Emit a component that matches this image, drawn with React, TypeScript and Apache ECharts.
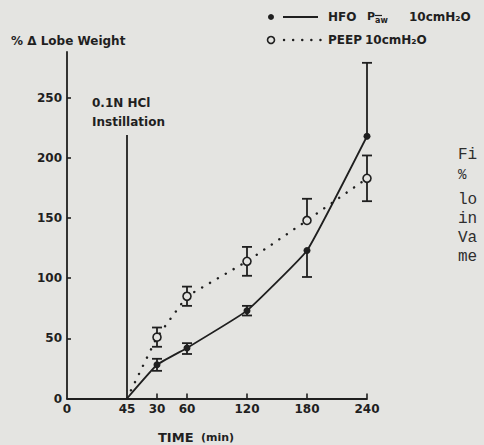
import React, { useEffect, useRef } from "react";
import * as echarts from "echarts";

// ---- data ----
const instillationLabel = "45";
const postTimes = [30, 60, 120, 180, 240];
const hfoMean = [28, 42, 73, 123, 218];
const hfoLow = [23, 37, 69, 101, 218];
const hfoHigh = [33, 46, 77, 123, 279];
const peepMean = [51, 85, 114, 148, 183];
const peepLow = [43, 77, 102, 148, 164];
const peepHigh = [59, 93, 126, 166, 202];
const startValue = 0;
const yTickValues = [0, 50, 100, 150, 200, 250];
const instillationLineTop = 219;
const captionLines = ["Fi", "%", "lo", "in", "Va", "me"];

// axis-unit position of "time 0 after instillation" (end of the 45-min instillation segment)
const POST_ORIGIN = 60;
const X_MAX = POST_ORIGIN + 240;
const Y_MAX = 288;

const INK = "#1f1f1f";
const BG = "#e4e4e1";
const FONT = "'DejaVu Sans', sans-serif";

export default function App() {
  const ref = useRef<HTMLDivElement>(null);

  useEffect(() => {
    if (!ref.current) return;
    const chart = echarts.init(ref.current, undefined, { renderer: "svg" });

    const xPos = postTimes.map((t) => POST_ORIGIN + t);
    const xTickPos = [0, POST_ORIGIN, ...xPos];
    const xTickText = ["0", instillationLabel, ...postTimes.map(String)];
    const labelFor = (v: number) => {
      const i = xTickPos.findIndex((p) => Math.abs(p - v) < 0.01);
      return i >= 0 ? xTickText[i] : "";
    };

    const hfoData = [[POST_ORIGIN, startValue], ...xPos.map((x, i) => [x, hfoMean[i]])];
    const peepData = [[POST_ORIGIN, startValue], ...xPos.map((x, i) => [x, peepMean[i]])];
    const hfoErr = xPos.map((x, i) => [x, hfoLow[i], hfoHigh[i], hfoMean[i]]);
    const peepErr = xPos.map((x, i) => [x, peepLow[i], peepHigh[i], peepMean[i]]);

    const errRender = (params: any, api: any) => {
      const x = api.value(0);
      const lo = api.value(1);
      const hi = api.value(2);
      const m = api.value(3);
      const pLo = api.coord([x, lo]);
      const pHi = api.coord([x, hi]);
      const style = { stroke: INK, lineWidth: 1.8 };
      const children: any[] = [
        { type: "line", shape: { x1: pLo[0], y1: pLo[1], x2: pHi[0], y2: pHi[1] }, style },
      ];
      const hw = 5;
      if (lo < m)
        children.push({ type: "line", shape: { x1: pLo[0] - hw, y1: pLo[1], x2: pLo[0] + hw, y2: pLo[1] }, style });
      if (hi > m)
        children.push({ type: "line", shape: { x1: pHi[0] - hw, y1: pHi[1], x2: pHi[0] + hw, y2: pHi[1] }, style });
      return { type: "group", children };
    };

    const txt = (x: number, y: number, text: string, size = 12, extra: any = {}) => ({
      type: "text",
      x,
      y,
      style: {
        text,
        fill: INK,
        font: `bold ${size}px ${FONT}`,
        verticalAlign: "middle",
        ...extra,
      },
    });

    const option: any = {
      animation: false,
      backgroundColor: BG,
      grid: { left: 67, top: 52, width: 300, bottom: 46.5, containLabel: false },
      xAxis: {
        type: "value",
        min: 0,
        max: X_MAX,
        axisLine: { show: true, lineStyle: { color: INK, width: 1.8 } },
        axisTick: {
          show: true,
          inside: true,
          length: 5,
          lineStyle: { color: INK, width: 1.6 },
          customValues: xPos,
        },
        axisLabel: {
          customValues: xTickPos,
          formatter: (v: number) => labelFor(v),
          color: INK,
          fontFamily: FONT,
          fontWeight: "bold",
          fontSize: 12,
          margin: 4,
        },
        splitLine: { show: false },
      },
      yAxis: {
        type: "value",
        min: 0,
        max: Y_MAX,
        axisLine: { show: true, lineStyle: { color: INK, width: 1.8 } },
        axisTick: {
          show: true,
          inside: true,
          length: 4,
          lineStyle: { color: INK, width: 1.6 },
          customValues: yTickValues.slice(1),
        },
        axisLabel: {
          customValues: yTickValues,
          color: INK,
          fontFamily: FONT,
          fontWeight: "bold",
          fontSize: 12,
          margin: 5,
        },
        splitLine: { show: false },
      },
      series: [
        {
          type: "line",
          name: "instillation",
          data: [],
          markLine: {
            silent: true,
            symbol: "none",
            label: { show: false },
            lineStyle: { color: INK, width: 1.8, type: "solid" },
            data: [[{ coord: [POST_ORIGIN, 0] }, { coord: [POST_ORIGIN, instillationLineTop] }]],
          },
        },
        {
          type: "custom",
          name: "hfoErr",
          renderItem: errRender,
          data: hfoErr,
          z: 1,
        },
        {
          type: "custom",
          name: "peepErr",
          renderItem: errRender,
          data: peepErr,
          z: 1,
        },
        {
          type: "line",
          name: "HFO",
          data: hfoData,
          smooth: 0.1,
          z: 3,
          lineStyle: { color: INK, width: 1.8 },
          symbol: (v: any, p: any) => (p.dataIndex === 0 ? "none" : "circle"),
          symbolSize: 7,
          itemStyle: { color: INK, borderWidth: 0 },
        },
        {
          type: "line",
          name: "PEEP",
          data: peepData,
          z: 4,
          lineStyle: { color: INK, width: 2.4, type: [0.1, 9], cap: "round" },
          symbol: (v: any, p: any) => (p.dataIndex === 0 ? "none" : "circle"),
          symbolSize: 8,
          itemStyle: { color: BG, borderColor: INK, borderWidth: 1.6 },
        },
      ],
      graphic: [
        // y-axis title
        txt(11, 41, "% Δ Lobe Weight", 12),
        // legend row 1
        { type: "circle", shape: { cx: 271, cy: 17, r: 3 }, style: { fill: INK } },
        { type: "line", shape: { x1: 283, y1: 17, x2: 318, y2: 17 }, style: { stroke: INK, lineWidth: 1.8 } },
        txt(328, 17, "HFO", 12),
        txt(367, 16, "P", 11),
        txt(375, 20, "aw", 8),
        { type: "line", shape: { x1: 375, y1: 15.5, x2: 382, y2: 15.5 }, style: { stroke: INK, lineWidth: 1.2 } },
        txt(409, 17, "10cmH₂O", 12),
        // legend row 2
        { type: "circle", shape: { cx: 271, cy: 40, r: 3.5 }, style: { fill: BG, stroke: INK, lineWidth: 1.6 } },
        {
          type: "line",
          shape: { x1: 284, y1: 40, x2: 323, y2: 40 },
          style: { stroke: INK, lineWidth: 2.4, lineDash: [0.1, 9], lineCap: "round" },
        },
        txt(328, 40, "PEEP", 12),
        txt(365, 40, "10cmH₂O", 12),
        // annotation
        txt(92, 103, "0.1N HCl", 12),
        txt(92, 122, "Instillation", 12),
        // x-axis title
        txt(158, 437, "TIME", 13),
        txt(201, 437, "(min)", 11),
        // cut-off caption text at the right edge
        ...captionLines.map((s, i) => ({
          type: "text",
          x: 458,
          y: [155, 175, 200, 219, 238, 257][i],
          style: {
            text: s,
            fill: "#2e2e2e",
            font: `${s === "%" ? 14 : 16}px 'Liberation Mono', 'DejaVu Sans Mono', monospace`,
            verticalAlign: "middle",
          },
        })),
      ],
    };

    chart.setOption(option);
    return () => chart.dispose();
  }, []);

  return (
    <div
      ref={ref}
      style={{ position: "absolute", left: 0, top: 0, width: 484, height: 445, background: BG }}
    />
  );
}
